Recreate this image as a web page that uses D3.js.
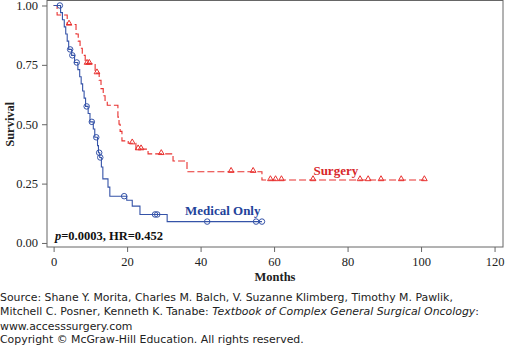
<!DOCTYPE html>
<html>
<head>
<meta charset="utf-8">
<script src="https://cdn.jsdelivr.net/npm/d3@7"></script>
<style>
  html, body { margin: 0; padding: 0; background: #fff; }
  svg { display: block; }
</style>
</head>
<body>
<div id="chart"></div>
<script>
// --- Data
// x axis ticks (months) and y axis ticks (survival)
const monthTicks = [0, 20, 40, 60, 80, 100, 120];
const survivalTicks = [0, 0.25, 0.5, 0.75, 1];

// Surgery: time of each drop, survival after the drop, censored times
const surgeryEventMonths = [0.95, 3.7, 6.1, 6.7, 7.2, 7.8, 8.6, 11.3, 12.4, 12.9, 13.5, 14.0, 14.6,
  17.5, 17.8, 18.1, 18.6, 20.3, 22.4, 25.7, 32.5, 36.3, 56.7];
const surgerySurvival = [0.96, 0.92, 0.88, 0.85, 0.82, 0.79, 0.755, 0.715, 0.685, 0.65, 0.62, 0.60, 0.58,
  0.53, 0.50, 0.47, 0.43, 0.42, 0.395, 0.375, 0.345, 0.30, 0.265];
const surgeryCensored = [4.2, 9.1, 9.7, 11.8, 21.4, 23.0, 23.8, 29.3, 48.3, 54.3, 59.0, 60.4, 62.0,
  70.6, 83.4, 85.6, 89.1, 94.6, 100.9];

// Medical only
const medicalEventMonths = [1.9, 2.4, 2.9, 3.3, 3.7, 4.1, 4.9, 5.7, 6.6, 7.1, 7.5, 7.9, 8.3, 8.7, 9.4,
  9.9, 10.8, 11.2, 11.95, 12.2, 12.55, 13.0, 13.4, 14.8, 15.3, 19.9, 21.4, 23.5, 30.9];
const medicalSurvival = [0.97, 0.94, 0.91, 0.88, 0.85, 0.815, 0.79, 0.76, 0.73, 0.70, 0.67, 0.64, 0.61,
  0.575, 0.545, 0.51, 0.48, 0.445, 0.41, 0.38, 0.36, 0.32, 0.27, 0.235, 0.197, 0.18, 0.155, 0.12, 0.09];
const medicalCensored = [1.7, 4.5, 5.1, 6.3, 9.0, 10.4, 11.6, 12.4, 12.7, 19.2, 27.6, 28.2, 41.8, 55.1, 56.7];

const sourceLines = [
  "Source: Shane Y. Morita, Charles M. Balch, V. Suzanne Klimberg, Timothy M. Pawlik,",
  "Mitchell C. Posner, Kenneth K. Tanabe: ",
  "www.accesssurgery.com",
  "Copyright \u00a9 McGraw-Hill Education. All rights reserved."
];
const bookTitle = "Textbook of Complex General Surgical Oncology";

// --- Layout
const width = 505;
const height = 345;
const margin = { top: 0.5, right: 2, bottom: 98, left: 47 };
const serif = "'Liberation Serif', 'Times New Roman', serif";
const sans = "'DejaVu Sans', Verdana, sans-serif";
const axisColor = "#666";
const surgeryColor = "#e8312f";
const medicalColor = "#3553a8";

const svg = d3.select("#chart")
  .append("svg")
  .attr("width", width)
  .attr("height", height)
  .attr("viewBox", [0, 0, width, height]);

const xScale = d3.scaleLinear()
  .domain([-1.8, 122.3])
  .range([margin.left, width - margin.right]);

const yScale = d3.scaleLinear()
  .domain([-0.017, 1.021])
  .range([height - margin.bottom, margin.top]);

// step curve points from event arrays
function steps(times, surv, lastTime) {
  const pts = [[0, 1]];
  times.forEach((t, i) => pts.push([t, surv[i]]));
  pts.push([lastTime, surv[surv.length - 1]]);
  return pts;
}

// survival value at a given time
function survAt(times, surv, t) {
  const i = d3.bisectRight(times, t);
  return i === 0 ? 1 : surv[i - 1];
}

// frame
svg.append("rect")
  .attr("x", margin.left)
  .attr("y", margin.top)
  .attr("width", width - margin.right - margin.left)
  .attr("height", height - margin.bottom - margin.top)
  .attr("fill", "none")
  .attr("stroke", axisColor);

// axes
svg.append("g")
  .attr("transform", `translate(0, ${height - margin.bottom})`)
  .call(d3.axisBottom(xScale)
    .tickValues(monthTicks)
    .tickSize(5)
    .tickPadding(5)
    .tickSizeOuter(0)
  )
  .call(g => g.select(".domain").remove())
  .call(g => g.selectAll("line").attr("stroke", axisColor))
  .call(g => g.selectAll("text")
    .attr("font-family", serif)
    .attr("font-size", 12.5)
    .attr("fill", "#222"));

svg.append("g")
  .attr("transform", `translate(${margin.left}, 0)`)
  .call(d3.axisLeft(yScale)
    .tickValues(survivalTicks)
    .tickFormat(d3.format(".2f"))
    .tickSize(5)
    .tickPadding(4)
    .tickSizeOuter(0)
  )
  .call(g => g.select(".domain").remove())
  .call(g => g.selectAll("line").attr("stroke", axisColor))
  .call(g => g.selectAll("text")
    .attr("font-family", serif)
    .attr("font-size", 12.5)
    .attr("fill", "#222"));

// axis titles
svg.append("text")
  .attr("x", (margin.left + width - margin.right) / 2)
  .attr("y", 281)
  .attr("text-anchor", "middle")
  .attr("font-family", serif)
  .attr("font-weight", "bold")
  .attr("font-size", 12.5)
  .attr("fill", "#222")
  .text("Months");

svg.append("text")
  .attr("transform", `translate(14, ${yScale(0.5)}) rotate(-90)`)
  .attr("text-anchor", "middle")
  .attr("font-family", serif)
  .attr("font-weight", "bold")
  .attr("font-size", 12.5)
  .attr("fill", "#222")
  .text("Survival");

// curves
const line = d3.line()
  .x(d => xScale(d[0]))
  .y(d => yScale(d[1]))
  .curve(d3.curveStepAfter);

const series = [
  { times: surgeryEventMonths, surv: surgerySurvival, cens: surgeryCensored, color: surgeryColor, dash: "7,3", marker: "triangle" },
  { times: medicalEventMonths, surv: medicalSurvival, cens: medicalCensored, color: medicalColor, dash: null, marker: "circle" }
];

series.forEach(s => {
  const last = d3.max(s.cens);
  svg.append("path")
    .datum(steps(s.times, s.surv, last))
    .attr("d", line)
    .attr("fill", "none")
    .attr("stroke", s.color)
    .attr("stroke-width", 1.1)
    .attr("stroke-dasharray", s.dash);

  const sym = d3.symbol()
    .type(s.marker === "triangle" ? d3.symbolTriangle : d3.symbolCircle)
    .size(s.marker === "triangle" ? 14 : 24);

  svg.append("g")
    .selectAll("path")
    .data(s.cens)
    .join("path")
    .attr("transform", t => `translate(${xScale(t)}, ${yScale(survAt(s.times, s.surv, t)) - (s.marker === "triangle" ? 1 : 0)})`)
    .attr("d", sym)
    .attr("fill", "none")
    .attr("stroke", s.color)
    .attr("stroke-width", 1);
});

// curve labels
svg.append("text")
  .attr("x", xScale(76.8))
  .attr("y", 175)
  .attr("text-anchor", "middle")
  .attr("font-family", serif)
  .attr("font-weight", "bold")
  .attr("font-size", 13)
  .attr("fill", "#d8262a")
  .text("Surgery");

svg.append("text")
  .attr("x", 185)
  .attr("y", 215)
  .attr("font-family", serif)
  .attr("font-weight", "bold")
  .attr("font-size", 13)
  .attr("fill", "#23429a")
  .text("Medical Only");

const stat = svg.append("text")
  .attr("x", 55)
  .attr("y", 240)
  .attr("font-family", serif)
  .attr("font-weight", "bold")
  .attr("font-size", 12.5)
  .attr("fill", "#111");
stat.append("tspan").attr("font-style", "italic").text("p");
stat.append("tspan").text("=0.0003, HR=0.452");

// source text
const src = svg.append("g")
  .attr("font-family", sans)
  .attr("font-size", 10.9)
  .attr("fill", "#222");

const baselines = [300.5, 315, 329.5, 342.5];
sourceLines.forEach((txt, i) => {
  const t = src.append("text")
    .attr("x", 0)
    .attr("y", baselines[i]);
  t.append("tspan").text(txt);
  if (i === 1) {
    t.append("tspan").attr("font-style", "italic").text(bookTitle);
    t.append("tspan").text(":");
  }
});
</script>
</body>
</html>
